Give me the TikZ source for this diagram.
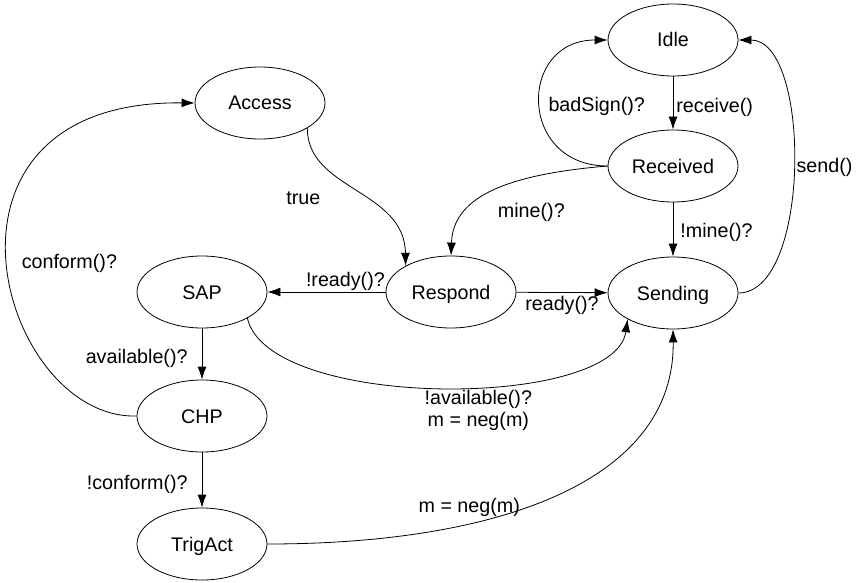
\documentclass[tikz,border=0pt]{standalone}
\usepackage{fontspec}
\setmainfont{Liberation Sans}
\usepackage{tikz}
\usetikzlibrary{shapes.geometric,arrows.meta}

\begin{document}
\begin{tikzpicture}
	[   x=1pt,y=-1pt,
	    every node/.style={font=\fontsize{19.7}{22}\selectfont,inner sep=2pt},
	    snode/.style={draw=black,line width=0.8pt,ellipse,minimum width=130pt,minimum height=72pt,inner sep=0pt,text height=14pt,text depth=0pt},
	]
	\tikzset{normal arrow/.style={draw,line width=0.8pt,-{Latex[length=13pt,width=9pt]}}}
	\useasboundingbox (0,0) rectangle (856,583);
	
	\node[snode] (idle) at (673,40) {Idle};
	\node[snode] (rec) at (673,166) {Received};
	\node[snode] (send) at (673,293) {Sending};
	\node[snode] (resp) at (451,292) {Respond};
	\node[snode] (acc) at (260,103) {Access};
	\node[snode] (sap) at (202,292) {SAP};
	\node[snode] (chp) at (202,416) {CHP};
	\node[snode] (trig) at (202,544) {TrigAct};
	
	% right column
	\path[normal arrow] (idle) -- node[right=1pt,yshift=-4pt] {receive()} (rec);
	\path[normal arrow] (rec) -- node[right=5pt,yshift=-3pt] {!mine()?} (send);
	\path[normal arrow] (rec.west) .. controls +(-90,0) and +(-90,0) .. node[right=6pt,yshift=-3pt] {badSign()?} (idle.west);
	\path[normal arrow] (send.east) .. controls +(73,0) and +(73,0) .. node[right=1pt,yshift=-1pt] {send()} (idle.east);
	\path[normal arrow] (rec.west) .. controls +(-108,9) and +(2,-56) .. node[pos=0.5,below right=6pt,yshift=-2pt] {mine()?} (resp.north);
	
	% middle
	\path[normal arrow] (acc.-28) .. controls +(0,62) and +(-1,-76) .. node[pos=0.45,anchor=north east,xshift=-26pt,yshift=-3pt] {true} (resp.150);
	\path[normal arrow] (resp) -- node[above,pos=0.34,inner sep=1pt] {!ready()?} (sap);
	\path[normal arrow] (resp) -- node[below,pos=0.5,inner sep=3pt] {ready()?} (send);
	
	% left column
	\path[normal arrow] (sap) -- node[left=12pt,yshift=-4pt] {available()?} (chp);
	\path[normal arrow] (chp) -- node[left=12pt,yshift=-4pt] {!conform()?} (trig);
	\path[normal arrow] (chp.west) .. controls +(-137,4) and +(-285,-3) .. node[pos=0.5,right=12pt,yshift=-4pt] {conform()?} (acc.west);
	\path[normal arrow] (sap.-30) .. controls +(21,92) and +(-13,91) .. node[pos=0.57,below=2pt,align=center] {!available()?\\m = neg(m)} (send.210);
	\path[normal arrow] (trig.east) .. controls +(233,0) and +(2,151) .. node[pos=0.32,above=5pt] {m = neg(m)} (send.south);
\end{tikzpicture}
\end{document}
